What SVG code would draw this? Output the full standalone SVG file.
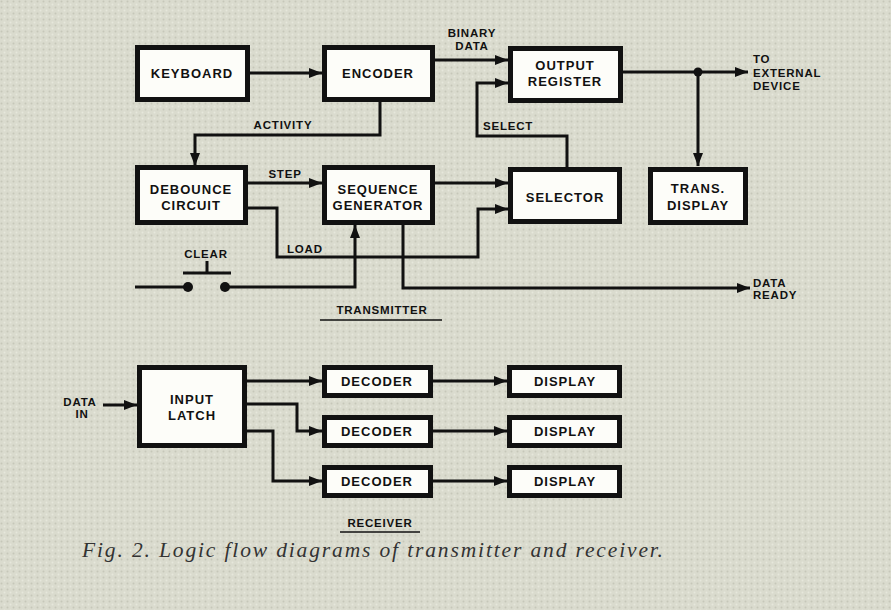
<svg xmlns="http://www.w3.org/2000/svg" width="891" height="610" viewBox="0 0 891 610">
<defs>
<style>
.box{fill:#fdfdf9;stroke:#111;stroke-width:5}
.t{font-family:"Liberation Sans",Arial,sans-serif;font-weight:bold;font-size:13px;letter-spacing:1px;fill:#111;text-anchor:middle}
.l{font-family:"Liberation Sans",Arial,sans-serif;font-weight:bold;font-size:11.5px;letter-spacing:0.8px;fill:#111}
.c{fill:none;stroke:#111;stroke-width:3}
.ar{marker-end:url(#ah)}
</style>
<marker id="ah" markerUnits="userSpaceOnUse" markerWidth="14" markerHeight="10" refX="13" refY="5" orient="auto">
<path d="M0,0 L13,5 L0,10 Z" fill="#111"/>
</marker>
<pattern id="dots" width="6" height="6" patternUnits="userSpaceOnUse">
<rect width="6" height="6" fill="#dadbce"/>
<circle cx="1.5" cy="1.5" r="1" fill="#c6c7b9"/>
<circle cx="4.5" cy="4.5" r="1" fill="#e6e7dc"/>
</pattern>
</defs>
<rect width="891" height="610" fill="url(#dots)"/>

<g id="connectors">
<path class="c ar" d="M250,73 H322"/>
<path class="c ar" d="M435,60 H508"/>
<path class="c ar" d="M623,72 H748"/>
<circle cx="698" cy="72" r="4.5" fill="#111"/>
<path class="c ar" d="M698,72 V166"/>
<path class="c ar" d="M380,102 V135 H195 V166"/>
<path class="c ar" d="M248,183 H322"/>
<path class="c ar" d="M435,183 H508"/>
<path class="c ar" d="M248,208 H277 V257 H478 V209 H508"/>
<path class="c ar" d="M567,167 V136 H477 V83 H508"/>
<path class="c" d="M135,287 H188"/>
<circle cx="188" cy="287" r="5" fill="#111"/>
<circle cx="225" cy="287" r="5" fill="#111"/>
<path class="c ar" d="M225,287 H355 V225"/>
<path class="c" d="M183,273 H231 M207,273 V261"/>
<path class="c ar" d="M403,225 V288 H750"/>
<path class="c ar" d="M103,405 H137"/>
<path class="c ar" d="M247,381 H322"/>
<path class="c ar" d="M247,404 H297 V431 H322"/>
<path class="c ar" d="M247,431 H273 V481 H322"/>
<path class="c ar" d="M433,381 H507"/>
<path class="c ar" d="M433,431 H507"/>
<path class="c ar" d="M433,481 H507"/>
</g>

<g id="keyboard"><rect class="box" x="137.5" y="47.5" width="110" height="52"/><text class="t" x="192" y="78">KEYBOARD</text></g>
<g id="encoder"><rect class="box" x="324.5" y="47.5" width="108" height="52"/><text class="t" x="378" y="78">ENCODER</text></g>
<g id="output-register"><rect class="box" x="510.5" y="48.5" width="110" height="52"/><text class="t" x="565" y="70">OUTPUT</text><text class="t" x="565" y="86">REGISTER</text></g>
<g id="debounce"><rect class="box" x="137.5" y="167.5" width="108" height="55"/><text class="t" x="191" y="194">DEBOUNCE</text><text class="t" x="191" y="210">CIRCUIT</text></g>
<g id="sequence-generator"><rect class="box" x="324.5" y="167.5" width="108" height="55"/><text class="t" x="378" y="194">SEQUENCE</text><text class="t" x="378" y="210">GENERATOR</text></g>
<g id="selector"><rect class="box" x="510.5" y="169.5" width="109" height="52"/><text class="t" x="565" y="202">SELECTOR</text></g>
<g id="trans-display"><rect class="box" x="650.5" y="169.5" width="95" height="53"/><text class="t" x="698" y="193">TRANS.</text><text class="t" x="698" y="210">DISPLAY</text></g>
<g id="input-latch"><rect class="box" x="139.5" y="367.5" width="105" height="78"/><text class="t" x="192" y="404">INPUT</text><text class="t" x="192" y="420">LATCH</text></g>
<g id="decoder1"><rect class="box" x="324.5" y="367.5" width="106" height="28"/><text class="t" x="377" y="386">DECODER</text></g>
<g id="decoder2"><rect class="box" x="324.5" y="417.5" width="106" height="28"/><text class="t" x="377" y="436">DECODER</text></g>
<g id="decoder3"><rect class="box" x="324.5" y="467.5" width="106" height="28"/><text class="t" x="377" y="486">DECODER</text></g>
<g id="display1"><rect class="box" x="509.5" y="367.5" width="110" height="28"/><text class="t" x="565" y="386">DISPLAY</text></g>
<g id="display2"><rect class="box" x="509.5" y="417.5" width="110" height="28"/><text class="t" x="565" y="436">DISPLAY</text></g>
<g id="display3"><rect class="box" x="509.5" y="467.5" width="110" height="28"/><text class="t" x="565" y="486">DISPLAY</text></g>

<g id="labels">
<text class="l" x="472" y="37" text-anchor="middle">BINARY</text>
<text class="l" x="472" y="50" text-anchor="middle">DATA</text>
<text class="l" x="753" y="63">TO</text>
<text class="l" x="753" y="77">EXTERNAL</text>
<text class="l" x="753" y="90">DEVICE</text>
<text class="l" x="483" y="130">SELECT</text>
<text class="l" x="283" y="129" text-anchor="middle">ACTIVITY</text>
<text class="l" x="285" y="178" text-anchor="middle">STEP</text>
<text class="l" x="287" y="253">LOAD</text>
<text class="l" x="206" y="258" text-anchor="middle">CLEAR</text>
<text class="l" x="382" y="314" text-anchor="middle">TRANSMITTER</text>
<path d="M320,320 H442" stroke="#111" stroke-width="1.5"/>
<text class="l" x="753" y="287">DATA</text>
<text class="l" x="753" y="299">READY</text>
<text class="l" x="80" y="406" text-anchor="middle">DATA</text>
<text class="l" x="82" y="418" text-anchor="middle">IN</text>
<text class="l" x="380" y="527" text-anchor="middle">RECEIVER</text>
<path d="M340,532 H420" stroke="#111" stroke-width="1.5"/>
<text x="82" y="557" font-family="'Liberation Serif','Times New Roman',serif" font-style="italic" font-size="21.5" fill="#333" textLength="581" lengthAdjust="spacing">Fig. 2. Logic flow diagrams of transmitter and receiver.</text>
</g>
</svg>
